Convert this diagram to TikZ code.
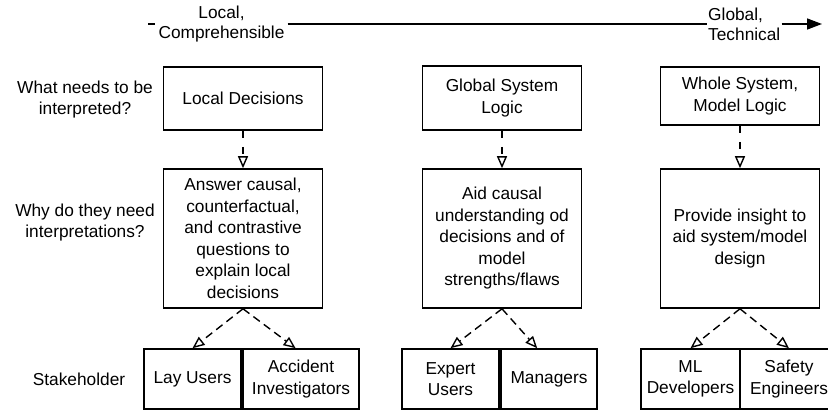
\documentclass[tikz,border=0pt]{standalone}
\usepackage{fontspec}
\setmainfont{Liberation Sans}
\usetikzlibrary{arrows.meta}

\begin{document}
\begin{tikzpicture}[x=1pt, y=-1pt,
  every node/.style={font=\fontsize{17.3}{21.5}\selectfont, align=center},
  box/.style={draw, line width=1.6pt, minimum width=159pt},
  user/.style={draw, line width=1.6pt, minimum height=60pt},
  down/.style={line width=1.4pt, dash pattern=on 7pt off 9pt, -{Triangle[open, length=12pt, width=10pt]}},
  fan/.style={line width=1.4pt, dash pattern=on 8pt off 5pt, -{Triangle[open, length=12pt, width=10pt]}}]
  \useasboundingbox (0,0) rectangle (828,411);

  % axis
  \coordinate (axisstart) at (148, 24);
  \coordinate (axisend) at (822, 24);
  \node[font=\fontsize{17.3}{20}\selectfont, inner xsep=3pt, inner ysep=0pt] (local) at (221.5, 24) {Local,\\Comprehensible};
  \node[font=\fontsize{17.3}{20}\selectfont, align=left, anchor=west, inner xsep=1pt, inner ysep=0pt] (global) at (707, 24) {Global,\\Technical};
  \draw[line width=1.5pt] (axisstart) -- (local.west);
  \draw[line width=1.5pt] (local.east) -- (global.west);
  \draw[line width=1.5pt, -{Triangle[length=15pt, width=11pt]}] (global.east) -- (axisend);

  % row labels
  \node (qwhat) at (85, 99.5) {What needs to be\\interpreted?};
  \node (qwhy) at (85, 222.5) {Why do they need\\interpretations?};
  \node (qwho) at (79, 379) {Stakeholder};

  % what
  \node[box, minimum height=63pt] (locdec) at (243, 98.5) {Local Decisions};
  \node[box, minimum height=64pt] (globlogic) at (502, 98) {Global System\\Logic};
  \node[box, minimum height=58pt] (wholesys) at (740, 96) {Whole System,\\Model Logic};

  % why
  \node[box, minimum height=139pt] (locwhy) at (243, 238.5) {Answer causal,\\counterfactual,\\and contrastive\\questions to\\explain local\\decisions};
  \node[box, minimum height=139pt] (globwhy) at (502, 238.5) {Aid causal\\understanding od\\decisions and of\\model\\strengths/flaws};
  \node[box, minimum height=139pt] (wholewhy) at (740, 238.5) {Provide insight to\\aid system/model\\design};

  % stakeholders
  \node[user, minimum width=97pt] (lay) at (192.5, 379) {Lay Users};
  \node[user, minimum width=116pt] (accident) at (301, 379) {Accident\\Investigators};
  \node[user, minimum width=97pt] (expert) at (450.5, 379) {Expert\\Users};
  \node[user, minimum width=96pt] (managers) at (549, 379) {Managers};
  \node[user, minimum width=99pt] (mldev) at (690.5, 379) {ML\\Developers};
  \node[user, minimum width=98pt] (safety) at (789, 379) {Safety\\Engineers};

  \draw[down] (locdec) -- (locwhy);
  \draw[down] (globlogic) -- (globwhy);
  \draw[down] (wholesys) -- (wholewhy);

  \draw[fan] (locwhy.south) -- (lay.north);
  \draw[fan] (locwhy.south) -- (accident.100);
  \draw[fan] (globwhy.south) -- (expert.north);
  \draw[fan] (globwhy.south) -- (managers.111);
  \draw[fan] (wholewhy.south) -- (mldev.north);
  \draw[fan] (wholewhy.south) -- (safety.north);
\end{tikzpicture}
\end{document}
